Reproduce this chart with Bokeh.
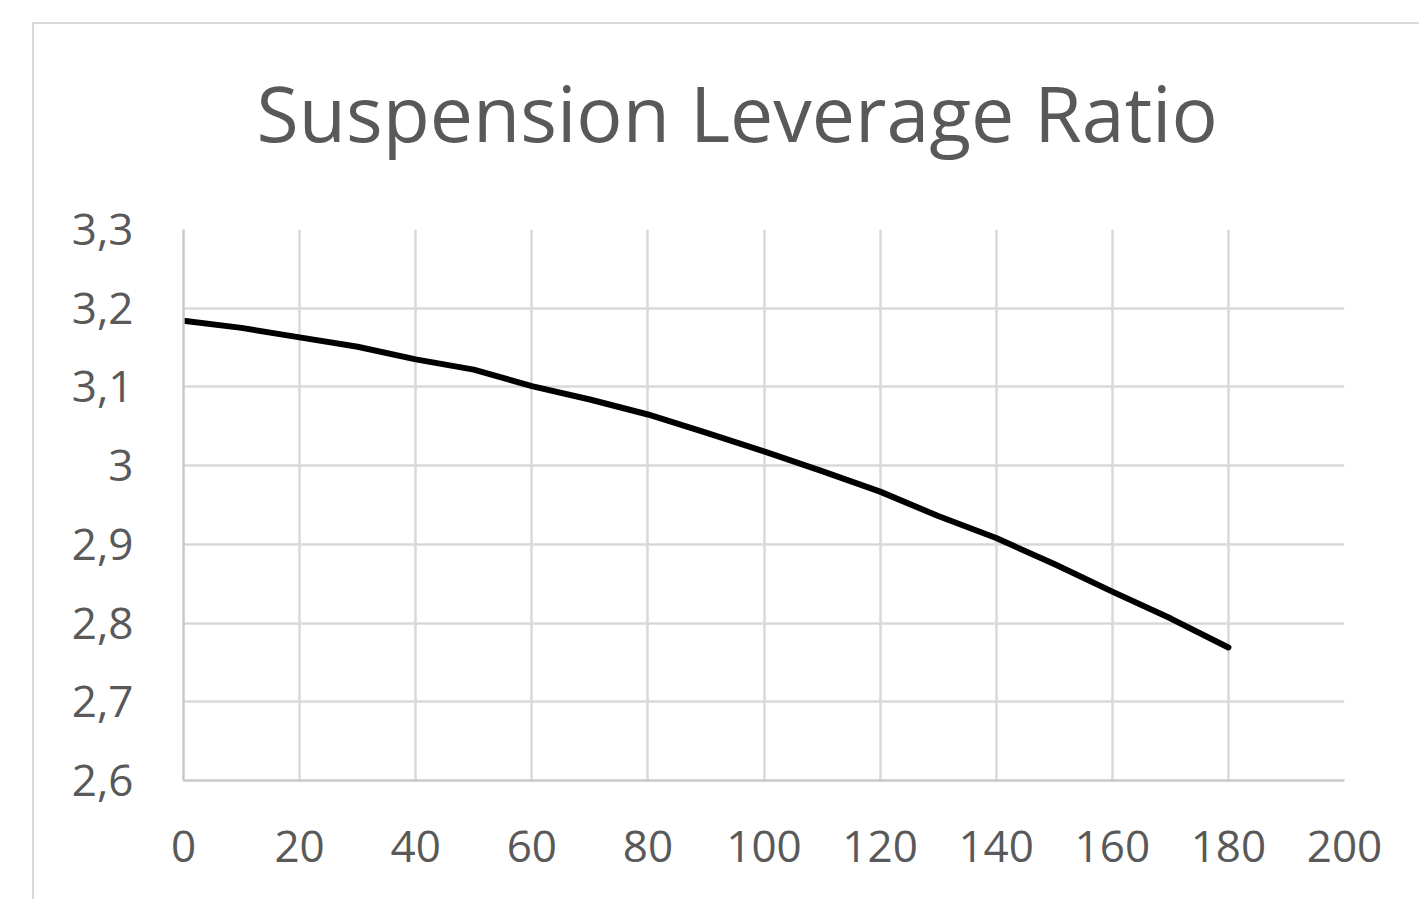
from bokeh.plotting import figure
from bokeh.models import FixedTicker, Range1d, Title
from bokeh.embed import file_html
from bokeh.resources import INLINE

# Data
travel = [0, 10, 20, 30, 40, 50, 60, 70, 80, 90, 100, 110, 120, 130, 140, 150, 160, 170, 180]
ratio = [3.184, 3.175, 3.163, 3.151, 3.135, 3.122, 3.101, 3.084, 3.065, 3.042, 3.018,
         2.993, 2.967, 2.936, 2.908, 2.875, 2.840, 2.806, 2.769]

x_ticks = [0, 20, 40, 60, 80, 100, 120, 140, 160, 180, 200]
y_ticks = [2.6, 2.7, 2.8, 2.9, 3.0, 3.1, 3.2, 3.3]
y_tick_labels = ["2,6", "2,7", "2,8", "2,9", "3", "3,1", "3,2", "3,3"]
title_text = "Suspension Leverage Ratio"

TEXT = "#595959"
GRID = "#d9d9d9"
FONT = "Open Sans"

p = figure(width=1387, height=877, output_backend="svg", toolbar_location=None,
           x_range=Range1d(0, 200), y_range=Range1d(2.6, 3.3),
           min_border_left=149, min_border_right=77, min_border_top=205, min_border_bottom=121)
p.styles = {"margin-left": "32px", "margin-top": "22px",
            "border-left": f"2px solid {GRID}", "border-top": f"2px solid {GRID}"}

p.title = Title(text=title_text, align="left", offset=73, standoff=64, vertical_align="top",
                text_font=FONT, text_font_size="77px", text_font_style="normal", text_color=TEXT)

# invisible spacer between the title and the plot area
p.add_layout(Title(text=" ", standoff=28, text_font_size="1px", text_color="white"), "above")

p.outline_line_color = None
p.background_fill_color = "white"
p.border_fill_color = "white"

p.xaxis.ticker = FixedTicker(ticks=x_ticks)
p.yaxis.ticker = FixedTicker(ticks=y_ticks)
p.yaxis.major_label_overrides = {t: l for t, l in zip(y_ticks, y_tick_labels)}

for ax in (p.xaxis, p.yaxis):
    ax.major_tick_out = 0
    ax.major_tick_in = 0
    ax.minor_tick_out = 0
    ax.minor_tick_in = 0
    ax.major_label_text_font = FONT
    ax.major_label_text_font_size = "44px"
    ax.major_label_text_color = TEXT
p.xaxis.axis_line_color = "#c8c8c8"
p.xaxis.axis_line_width = 2.5
p.yaxis.axis_line_color = "#c8c8c8"
p.yaxis.axis_line_width = 2.5
p.xaxis.major_label_standoff = 50
p.yaxis.major_label_standoff = 50

p.xgrid.ticker = FixedTicker(ticks=x_ticks)
p.ygrid.ticker = FixedTicker(ticks=y_ticks)
p.xgrid.grid_line_color = GRID
p.ygrid.grid_line_color = GRID
p.xgrid.grid_line_width = 2.5
p.ygrid.grid_line_width = 2.5

p.line(travel, ratio, line_color="black", line_width=6, line_join="round", line_cap="round")

open("out.html", "w").write(file_html(p, INLINE))
